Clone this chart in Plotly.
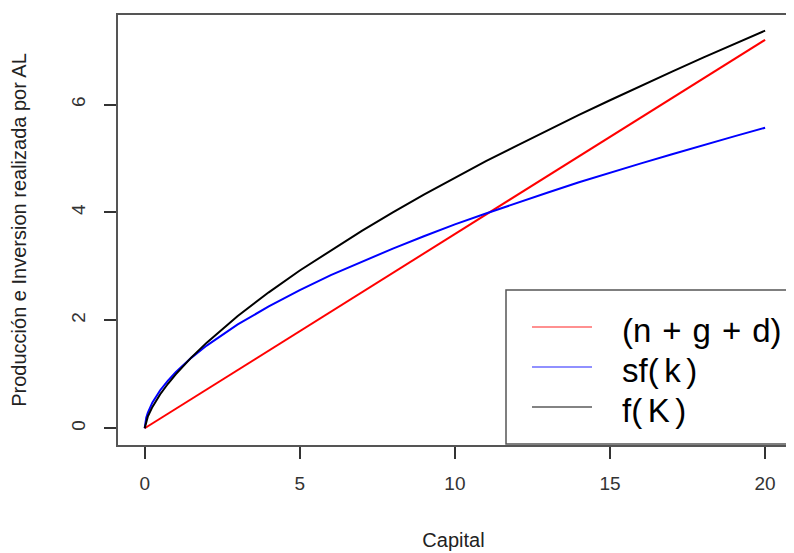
import plotly.graph_objects as go

# Capital values (x) and the three curves
capital = [0, 0.05, 0.1, 0.25, 0.5, 0.75, 1, 1.5, 2, 3, 4, 5, 6, 7, 8, 9, 10,
           11, 12, 13, 14, 15, 16, 17, 18, 19, 20]
f_k = [0, 0.136, 0.215, 0.397, 0.63, 0.825, 1.0, 1.31, 1.587, 2.08, 2.52, 2.924,
       3.30, 3.66, 4.0, 4.33, 4.64, 4.95, 5.24, 5.53, 5.81, 6.08, 6.35, 6.61,
       6.87, 7.12, 7.37]
sf_k = [0, 0.194, 0.286, 0.479, 0.705, 0.885, 1.04, 1.305, 1.533, 1.924, 2.26,
        2.56, 2.84, 3.09, 3.33, 3.56, 3.78, 3.98, 4.18, 4.37, 4.56, 4.74, 4.91,
        5.08, 5.25, 5.41, 5.57]
ngd = [0, 0.018, 0.036, 0.09, 0.18, 0.27, 0.36, 0.54, 0.72, 1.08, 1.44, 1.8,
       2.16, 2.52, 2.88, 3.24, 3.6, 3.96, 4.32, 4.68, 5.04, 5.4, 5.76, 6.12,
       6.48, 6.84, 7.2]

x_ticks = [0, 5, 10, 15, 20]
y_ticks = [0, 2, 4, 6]

series_names = ["(n\u2004+\u2004g\u2004+\u2004d)", "sf(\u2006k\u2006)", "f(\u2006K\u2006)"]
series_values = [ngd, sf_k, f_k]
series_colors = ["#ff0000", "#0000ff", "#000000"]
legend_line_colors = ["#ff6b6b", "#6b6bff", "#5a5a5a"]

FONT = "Liberation Sans, Arial, sans-serif"

fig = go.Figure()
for name, vals, col in zip(series_names, series_values, series_colors):
    fig.add_trace(go.Scatter(
        x=capital, y=vals, mode="lines", name=name,
        line=dict(color=col, width=2), showlegend=False
    ))

# Legend box drawn in R style (plot area in page px: 118..789 wide, 15..445 tall)
PW, PH, PL, PB = 671.0, 430.0, 118.0, 445.0
def px(x): return (x - PL) / PW
def py(y): return (PB - y) / PH

fig.add_shape(type="rect", xref="paper", yref="paper",
              x0=px(506), x1=px(789), y0=py(444), y1=py(290),
              line=dict(color="#555555", width=1.5), fillcolor="white", layer="above")
rows = [327, 367, 407]
for name, col, ry in zip(series_names, legend_line_colors, rows):
    fig.add_shape(type="line", xref="paper", yref="paper",
                  x0=px(532), x1=px(592), y0=py(ry), y1=py(ry),
                  line=dict(color=col, width=1.5), layer="above")
    fig.add_annotation(xref="paper", yref="paper", x=px(620), y=py(ry + 3),
                       text=name, showarrow=False, xanchor="left", yanchor="middle",
                       font=dict(family=FONT, size=33, color="#000000"))

axis_common = dict(
    showline=True, mirror=True, linecolor="#555555", linewidth=1.5,
    showgrid=False, zeroline=False, ticks="outside", ticklen=12,
    tickcolor="#333333", tickwidth=1.5, automargin=False,
    tickfont=dict(family=FONT, size=19, color="#333333"),
)

# the page adds an 8px body margin, so the figure is 8px smaller on each axis
fig.update_layout(
    width=786, height=545,
    margin=dict(l=110, r=5, t=7, b=108),
    paper_bgcolor="white", plot_bgcolor="white",
    showlegend=False,
    xaxis=dict(range=[-0.86, 20.77], tickvals=x_ticks, ticklabelstandoff=8,
               title=dict(text="Capital", font=dict(family=FONT, size=20, color="#222222"),
                          standoff=40),
               **axis_common),
    yaxis=dict(range=[-0.31, 7.66], tickvals=y_ticks, tickangle=-90,
               ticklabelstandoff=12,
               title=dict(text="Producción e Inversion realizada por AL",
                          font=dict(family=FONT, size=20, color="#222222"), standoff=36),
               **axis_common),
)

fig.write_html("out.html")
